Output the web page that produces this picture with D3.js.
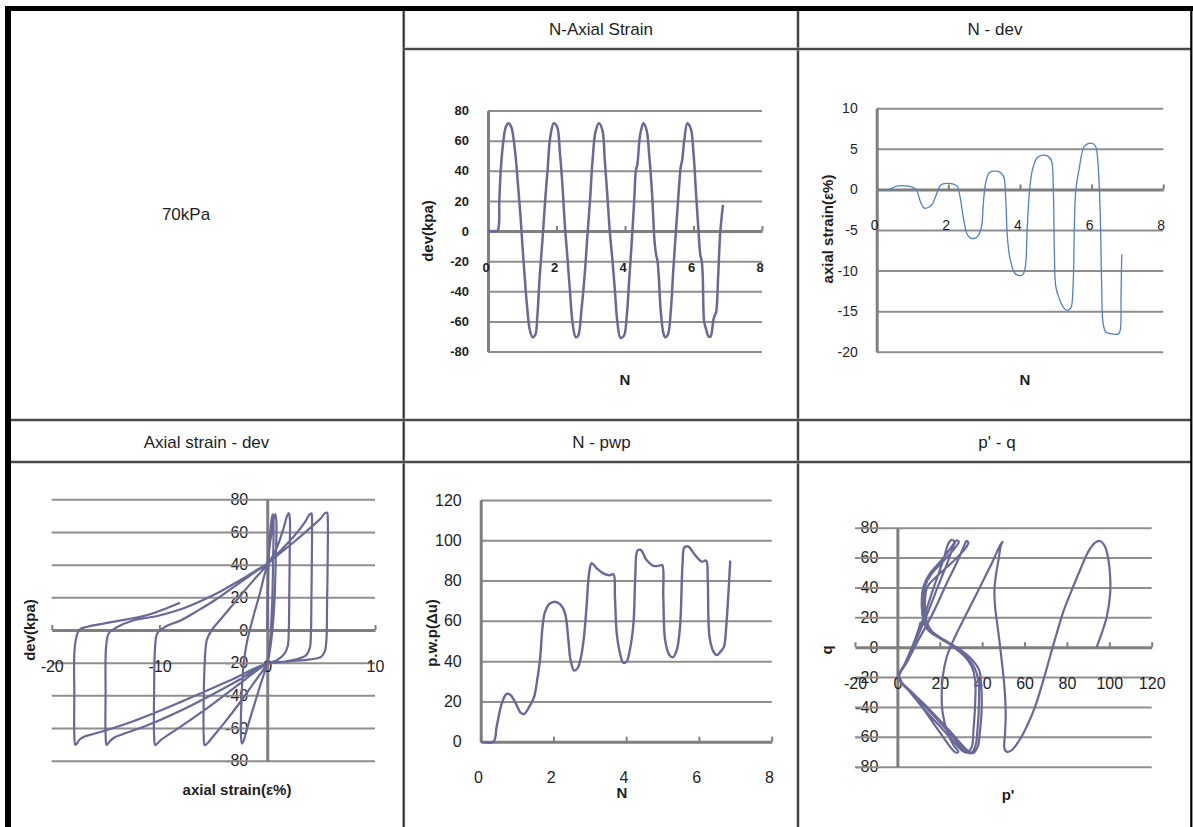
<!DOCTYPE html>
<html>
<head>
<meta charset="utf-8">
<script src="https://cdn.jsdelivr.net/npm/d3@7"></script>
<style>
body { margin: 0; background: #fff; }
svg { display: block; }
text { font-family: "Liberation Sans", Arial, sans-serif; fill: #1e1e1e; }
</style>
</head>
<body>
<script>
// ---- data ----
var cellTitles = ['N-Axial Strain', 'N - dev', 'Axial strain - dev', 'N - pwp', "p' - q"];
var pressureLabel = '70kPa';

var nTicks = [0, 2, 4, 6, 8];
var devTicks = [-80, -60, -40, -20, 0, 20, 40, 60, 80];
var strainTicks = [-20, -15, -10, -5, 0, 5, 10];
var loopStrainTicks = [-20, -10, 0, 10];
var pwpTicks = [0, 20, 40, 60, 80, 100, 120];
var pTicks = [-20, 0, 20, 40, 60, 80, 100, 120];

// N vs deviator stress (kPa)
var devPoints = [[0,0],[0.22,0],[0.29,0.5],[0.33,20],[0.37,39.5],[0.44,58],[0.52,69],[0.6,71.5],[0.68,69],[0.78,55],[0.88,29.5],[0.95,9.6],[1.0,-8],[1.07,-30],[1.14,-50],[1.22,-65.6],[1.3,-70.5],[1.38,-69],[1.44,-56.7],[1.51,-30],[1.59,-6],[1.67,20.7],[1.74,40.6],[1.82,62.7],[1.92,71.5],[2.02,69],[2.1,51.7],[2.17,31.7],[2.24,5.2],[2.32,-18],[2.39,-39],[2.47,-61],[2.56,-70.5],[2.63,-69.6],[2.73,-52],[2.83,-27],[2.9,-3.7],[2.98,20.7],[3.05,46],[3.14,66],[3.24,71.5],[3.34,67],[3.41,47],[3.48,25],[3.56,-1.4],[3.64,-21],[3.71,-41],[3.78,-61],[3.87,-71],[3.97,-69.5],[4.05,-56.7],[4.13,-30],[4.2,-6],[4.27,20.7],[4.32,40.6],[4.36,44],[4.42,60],[4.46,66],[4.54,71.5],[4.63,67],[4.71,49.4],[4.79,25],[4.86,-6],[4.91,-16],[4.95,-20],[4.99,-32],[5.04,-52],[5.12,-67.8],[5.17,-70.5],[5.25,-69],[5.34,-52],[5.41,-25.8],[5.49,0.8],[5.57,27],[5.63,42.8],[5.67,47],[5.73,60],[5.82,71.5],[5.92,68],[6.0,51.7],[6.08,22.9],[6.15,-1.4],[6.2,-16],[6.24,-20],[6.27,-30],[6.31,-60],[6.36,-64.5],[6.44,-70],[6.5,-70],[6.58,-59],[6.62,-56],[6.66,-54],[6.72,-30],[6.78,-1.4],[6.86,17.4]];

// N vs axial strain (%)
var strainPoints = [[0,0],[0.35,0],[0.45,0.2],[0.55,0.4],[0.8,0.45],[0.95,0.35],[1.1,0],[1.22,-1.5],[1.33,-2.3],[1.45,-2.2],[1.55,-1.8],[1.65,-0.8],[1.72,0],[1.8,0.6],[1.95,0.75],[2.15,0.65],[2.25,0.4],[2.33,-1],[2.42,-3.5],[2.52,-5.5],[2.62,-6],[2.75,-6],[2.85,-5.6],[2.93,-4.5],[2.98,-1.5],[3.05,1],[3.15,2.1],[3.3,2.25],[3.45,2.1],[3.55,1.5],[3.6,-1],[3.65,-6],[3.72,-8.5],[3.85,-10.3],[3.95,-10.6],[4.08,-10.5],[4.15,-9.5],[4.2,-5],[4.26,-0.5],[4.35,2.5],[4.48,3.9],[4.6,4.2],[4.78,4.1],[4.88,3.5],[4.93,0],[4.96,-8],[5.0,-12],[5.1,-13.5],[5.22,-14.6],[5.32,-14.9],[5.42,-14.6],[5.48,-12],[5.52,-4],[5.56,0],[5.65,2.5],[5.78,5.2],[5.9,5.65],[6.05,5.6],[6.12,5.2],[6.18,3],[6.24,-3],[6.28,-12],[6.32,-16.5],[6.4,-17.6],[6.55,-17.8],[6.75,-17.8],[6.8,-17.3],[6.82,-13],[6.84,-8]];

// axial strain (%) vs deviator stress (kPa)
var loopPoints = [[0,0],[0.05,20],[0.15,45],[0.35,65],[0.5,71],[0.58,67],[0.55,45],[0.45,15],[0.25,-8],[0,-20],
  [-0.7,-35],[-1.4,-50],[-1.9,-61],[-2.2,-68],[-2.35,-69.5],
  [-2.45,-62],[-2.4,-45],[-2.25,-25],[-1.9,-8],[-1.3,8],[-0.7,22],[-0.25,34],[0,40],
  [0.3,55],[0.6,68],[0.75,71],[0.85,66],[0.8,45],[0.65,15],[0.4,-5],[0.1,-18],[0,-20.5],
  [-1.2,-32],[-2.6,-45],[-4,-57],[-5,-65],[-5.5,-69],[-5.8,-70.5],
  [-5.9,-64],[-5.9,-45],[-5.8,-20],[-5.6,-6],[-5.1,0.5],[-4.4,6],[-3.5,13],[-2.5,21],[-1.2,31],[0,40],
  [0.8,49],[1.5,62],[1.85,70],[2.0,71.5],[2.1,68],[2.1,55],[2.05,25],[2.0,0],[1.9,-10],[1.6,-14.5],[0.9,-18.5],[0,-20.5],
  [-2,-30],[-5,-45],[-8,-59],[-9.8,-67],[-10.2,-69.5],[-10.4,-70.4],
  [-10.5,-64],[-10.5,-40],[-10.4,-10],[-10.2,-2],[-9.5,1.8],[-8,6],[-6.4,12],[-4.8,18.5],[-3.3,25.5],[-2,31.5],[-0.9,36.5],[0,40],
  [1,47],[2.5,57.5],[3.5,66],[3.9,70.5],[4.1,71.4],[4.15,68],[4.15,50],[4.1,20],[4.05,-3],[3.95,-11],[3.6,-15.5],[2.5,-18.2],[1,-19.8],[0,-20.5],
  [-3,-32],[-7,-46],[-11,-58],[-13.5,-64],[-14.1,-65.5],[-14.6,-68],[-14.9,-70.4],
  [-15,-64],[-15,-40],[-14.95,-10],[-14.7,-2],[-14,1.5],[-12.6,5.5],[-10.1,8.7],[-8.1,12.5],[-6.4,17],[-4.8,22],[-3.3,27.5],[-2,32.5],[-0.9,37],[0,40.5],
  [1,46],[2.5,54],[4,62.5],[5,68.5],[5.35,71.5],[5.55,71.8],[5.62,67],[5.62,50],[5.55,15],[5.5,-5],[5.35,-13],[5,-16.5],[4,-18],[2,-19.2],[0,-20.5],
  [-3.5,-31],[-8,-44],[-12.5,-56],[-16.3,-64],[-16.9,-65],[-17.4,-67],[-17.8,-70.4],
  [-17.9,-64],[-17.9,-40],[-17.85,-10],[-17.45,0],[-16.7,2],[-14.2,5.1],[-11.1,9.2],[-8.1,16.7]];

// N vs pore water pressure (kPa)
var pwpPoints = [[0,0],[0.35,0],[0.44,7.5],[0.58,19],[0.71,23.7],[0.82,23.2],[0.94,19.9],[1.1,14.4],[1.19,13.7],[1.36,18.2],[1.47,22.4],[1.56,31.5],[1.63,40.6],[1.7,57],[1.77,64.6],[1.89,68.4],[2.04,69.5],[2.2,67.9],[2.32,63.7],[2.41,50.5],[2.47,40.6],[2.57,35.3],[2.66,36.4],[2.75,41.4],[2.84,52.2],[2.91,67],[2.98,83.6],[3.05,88.6],[3.19,86.1],[3.37,83.6],[3.54,82.6],[3.65,83.1],[3.69,72],[3.74,53.8],[3.83,43.9],[3.92,39.2],[4.01,39.7],[4.1,45.5],[4.2,58.8],[4.25,82],[4.31,94.9],[4.4,95.2],[4.56,90.2],[4.75,87.3],[4.91,87.4],[4.99,87.7],[5.02,72],[5.07,50.5],[5.19,43],[5.28,41.9],[5.39,45.5],[5.48,57.1],[5.55,88.6],[5.6,96.5],[5.71,96.9],[5.89,92.7],[6.08,89.4],[6.2,89.9],[6.24,82],[6.29,52.2],[6.4,44.7],[6.49,43],[6.63,45.5],[6.69,47.2],[6.75,57.1],[6.81,73.7],[6.86,89.9]];

// p' vs q
var pqPoints = [[94,0],[96.4,9.3],[98.8,20.4],[100.4,36],[100.4,47.2],[99.6,58.4],[98,67.3],[95.6,71.1],[93.3,70],[90.1,64],[86.2,51.7],[82.3,38.3],[78.3,23.8],[75.2,9.3],[72,-6.4],[68.9,-22],[65,-39.8],[61,-53.2],[57.1,-63.3],[54,-68.9],[51.6,-70],
  [50.5,-67.7],[50.8,-57.7],[51.1,-44.3],[50.5,-26.5],[49.2,-8.6],[47.7,9.3],[46.1,27.1],[45.8,38.3],[46.4,47.2],[47.7,58.4],[48.9,68.4],[49.6,70.6],
  [48.5,68.4],[45.3,58.4],[41.4,47.2],[36.7,33.8],[31.9,20.4],[27.2,7],[23.3,-6.4],[21.4,-19.8],[20.9,-33.1],[21.4,-44.3],[23.3,-55.5],[26.4,-65.5],[28.8,-70],
  [27.5,-70.5],[19.3,-55.5],[11.5,-39.8],[5.2,-28.7],[0.5,-20.2],[3.6,-10.8],[8.3,4.8],[13.1,22.7],[17.8,42.7],[21.7,58.4],[24.1,69.5],[25.6,71.8],[26.9,70.6],
  [25.6,67.3],[20.9,58.4],[15.4,49.4],[12.3,40.5],[11.5,27.1],[12.3,18.2],[13.8,12.6],[19.3,7],[26.4,0.3],[31.9,-6.4],[35.1,-13],[36.7,-22],[36.7,-37.6],[35.9,-55.5],[35.1,-66.6],[32.7,-70.6],
  [30.4,-69],[22,-56],[13,-42],[6,-30],[0.5,-20.5],[3.5,-11],[8.5,4],[14,22],[19.5,42],[24,58],[26.8,69],[28,71.5],[29,70.5],
  [27.5,67],[22,58],[16,49],[12.8,40],[12,27],[12.8,17],[14.5,11.5],[20,6],[27.5,-0.5],[33,-7],[36.5,-14],[38.3,-23],[38.5,-38],[37.8,-55],[36.8,-66],[34.5,-71],
  [32,-69.5],[24,-56.5],[14,-41],[6.5,-30],[0.8,-20.2],[4.5,-10],[10,5],[16.5,22],[23,42],[28.5,58],[31.8,69],[32.7,71.2],[33.5,70],
  [32,66],[26,57],[19,48],[14,40],[13,28],[13.8,17.5],[16,11],[22,5],[29.5,-1.5],[35,-8],[38.5,-15],[39.5,-24],[39.8,-40],[39,-56],[37.8,-67],[35.5,-71],
  [33,-69],[24,-55],[14,-40],[6,-29],[0.5,-20],[4,-10],[7.5,2],[10,12],[11,17]];

// ---- drawing ----
var svg = d3.select('body').append('svg')
    .attr('width', 1193)
    .attr('height', 827);

var gridColor = '#8e8e8e';
var axisColor = '#7f7f7f';
var purple = '#686899';

// table frame
function rule(x1, y1, x2, y2, w, c) {
    svg.append('line')
        .attr('x1', x1).attr('y1', y1).attr('x2', x2).attr('y2', y2)
        .attr('stroke', c).attr('stroke-width', w);
}
function innerRule(x1, y1, x2, y2) {
    rule(x1, y1, x2, y2, 3, '#a8a8a8');
    rule(x1, y1, x2, y2, 1.6, '#2a2a2a');
}
innerRule(403.7, 11, 403.7, 827);
innerRule(798, 11, 798, 827);
innerRule(403.7, 49, 1191, 49);
innerRule(11, 420, 1191, 420);
innerRule(11, 462, 1191, 462);
rule(5, 8.5, 1193, 8.5, 5, '#000');
rule(8, 6, 8, 827, 6, '#000');
rule(1191.3, 6, 1191.3, 827, 2.2, '#000');

// cell titles
var titlePos = [[601, 34.5], [995, 34.5], [206.5, 448], [601.5, 448], [997, 448]];
svg.selectAll('text.cell-title')
    .data(cellTitles)
    .enter().append('text')
    .attr('class', 'cell-title')
    .attr('x', (d, i) => titlePos[i][0])
    .attr('y', (d, i) => titlePos[i][1])
    .attr('text-anchor', 'middle')
    .attr('font-size', 17)
    .text(d => d);

svg.append('text')
    .attr('x', 186).attr('y', 220)
    .attr('text-anchor', 'middle')
    .attr('font-size', 17)
    .text(pressureLabel);

function panel(o) {
    var x = d3.scaleLinear().domain(o.xDomain).range(o.xRange);
    var y = d3.scaleLinear().domain(o.yDomain).range(o.yRange);
    var g = svg.append('g');
    var w = o.xRange[1] - o.xRange[0];
    var x0 = x(0), y0 = y(0);

    // y tick labels (under the gridlines, as in the original)
    g.append('g')
        .attr('transform', 'translate(' + (x0 - 19) + ',0)')
        .call(d3.axisLeft(y).tickValues(o.yTicks).tickSize(0).tickPadding(0).tickFormat(String))
        .call(a => a.select('.domain').remove())
        .selectAll('text')
        .attr('font-size', o.font).attr('font-weight', o.bold ? 'bold' : 'normal')
        .attr('font-family', '"Liberation Sans", Arial, sans-serif').attr('fill', '#1e1e1e');

    // gridlines
    g.append('g')
        .attr('transform', 'translate(' + o.xRange[0] + ',0)')
        .call(d3.axisLeft(y).tickValues(o.yTicks.filter(v => v !== 0)).tickSize(-w).tickFormat(''))
        .call(a => a.select('.domain').remove())
        .selectAll('line').attr('stroke', gridColor).attr('stroke-width', 2);

    // y axis line
    g.append('g')
        .attr('transform', 'translate(' + x0 + ',0)')
        .call(d3.axisLeft(y).tickValues([]).tickSizeOuter(0))
        .select('.domain').attr('stroke', axisColor).attr('stroke-width', 3);

    // x axis line with small inside ticks
    var xa = g.append('g')
        .attr('transform', 'translate(0,' + y0 + ')')
        .call(d3.axisTop(x).tickValues(o.xTicks).tickSize(5).tickSizeOuter(0).tickFormat(''));
    xa.select('.domain').attr('stroke', axisColor).attr('stroke-width', 3);
    xa.selectAll('line').attr('stroke', axisColor).attr('stroke-width', 2);

    // x tick labels, set well below the axis line
    g.append('g')
        .attr('transform', 'translate(' + (o.shift || 0) + ',' + y0 + ')')
        .call(d3.axisBottom(x).tickValues(o.xTicks).tickSize(0).tickFormat(String))
        .call(a => a.select('.domain').remove())
        .selectAll('text')
        .attr('y', 36).attr('dy', '0.35em')
        .attr('font-size', o.font).attr('font-weight', o.bold ? 'bold' : 'normal')
        .attr('font-family', '"Liberation Sans", Arial, sans-serif').attr('fill', '#1e1e1e');

    // series
    var line = d3.line()
        .x(d => x(d[0]))
        .y(d => y(d[1]))
        .curve(d3.curveCatmullRom.alpha(0.5));
    g.append('path')
        .datum(o.data)
        .attr('d', line)
        .attr('fill', 'none')
        .attr('stroke', o.color)
        .attr('stroke-width', o.width)
        .attr('stroke-linejoin', 'round');

    // axis titles
    g.append('text')
        .attr('transform', 'translate(' + o.yTitle[1] + ',' + o.yTitle[2] + ') rotate(-90)')
        .attr('text-anchor', 'middle').attr('dy', '0.35em')
        .attr('font-size', 15).attr('font-weight', 'bold')
        .text(o.yTitle[0]);
    g.append('text')
        .attr('x', o.xTitle[1]).attr('y', o.xTitle[2])
        .attr('text-anchor', 'middle').attr('dy', '0.35em')
        .attr('font-size', 15).attr('font-weight', 'bold')
        .text(o.xTitle[0]);
}

panel({
    xDomain: [0, 8], xRange: [488, 762], yDomain: [-80, 80], yRange: [351.5, 110.5],
    xTicks: nTicks, yTicks: devTicks, font: 13, bold: true, shift: -2.5,
    data: devPoints, color: purple, width: 2.5,
    yTitle: ['dev(kpa)', 428, 231], xTitle: ['N', 625, 380]
});
panel({
    xDomain: [0, 8], xRange: [876.7, 1163.3], yDomain: [-20, 10], yRange: [351.7, 108.3],
    xTicks: nTicks, yTicks: strainTicks, font: 14, shift: -2.6,
    data: strainPoints, color: '#4f81c4', width: 1.3,
    yTitle: ['axial strain(ε%)', 828, 229], xTitle: ['N', 1025, 380]
});
panel({
    xDomain: [-20, 10], xRange: [51.7, 375], yDomain: [-80, 80], yRange: [760.7, 499.3],
    xTicks: loopStrainTicks, yTicks: devTicks, font: 16,
    data: loopPoints, color: purple, width: 2.2,
    yTitle: ['dev(kpa)', 30, 630], xTitle: ['axial strain(ε%)', 237, 790]
});
panel({
    xDomain: [0, 8], xRange: [480.7, 771.7], yDomain: [0, 120], yRange: [741.7, 500],
    xTicks: nTicks, yTicks: pwpTicks, font: 16, shift: -2.7,
    data: pwpPoints, color: purple, width: 2.4,
    yTitle: ['p.w.p(Δu)', 432, 633], xTitle: ['N', 622, 793]
});
panel({
    xDomain: [-20, 120], xRange: [855, 1151.7], yDomain: [-80, 80], yRange: [766.7, 527.7],
    xTicks: pTicks, yTicks: devTicks, font: 16,
    data: pqPoints, color: purple, width: 2.2,
    yTitle: ['q', 827, 650], xTitle: ["p'", 1008, 795]
});
</script>
</body>
</html>
